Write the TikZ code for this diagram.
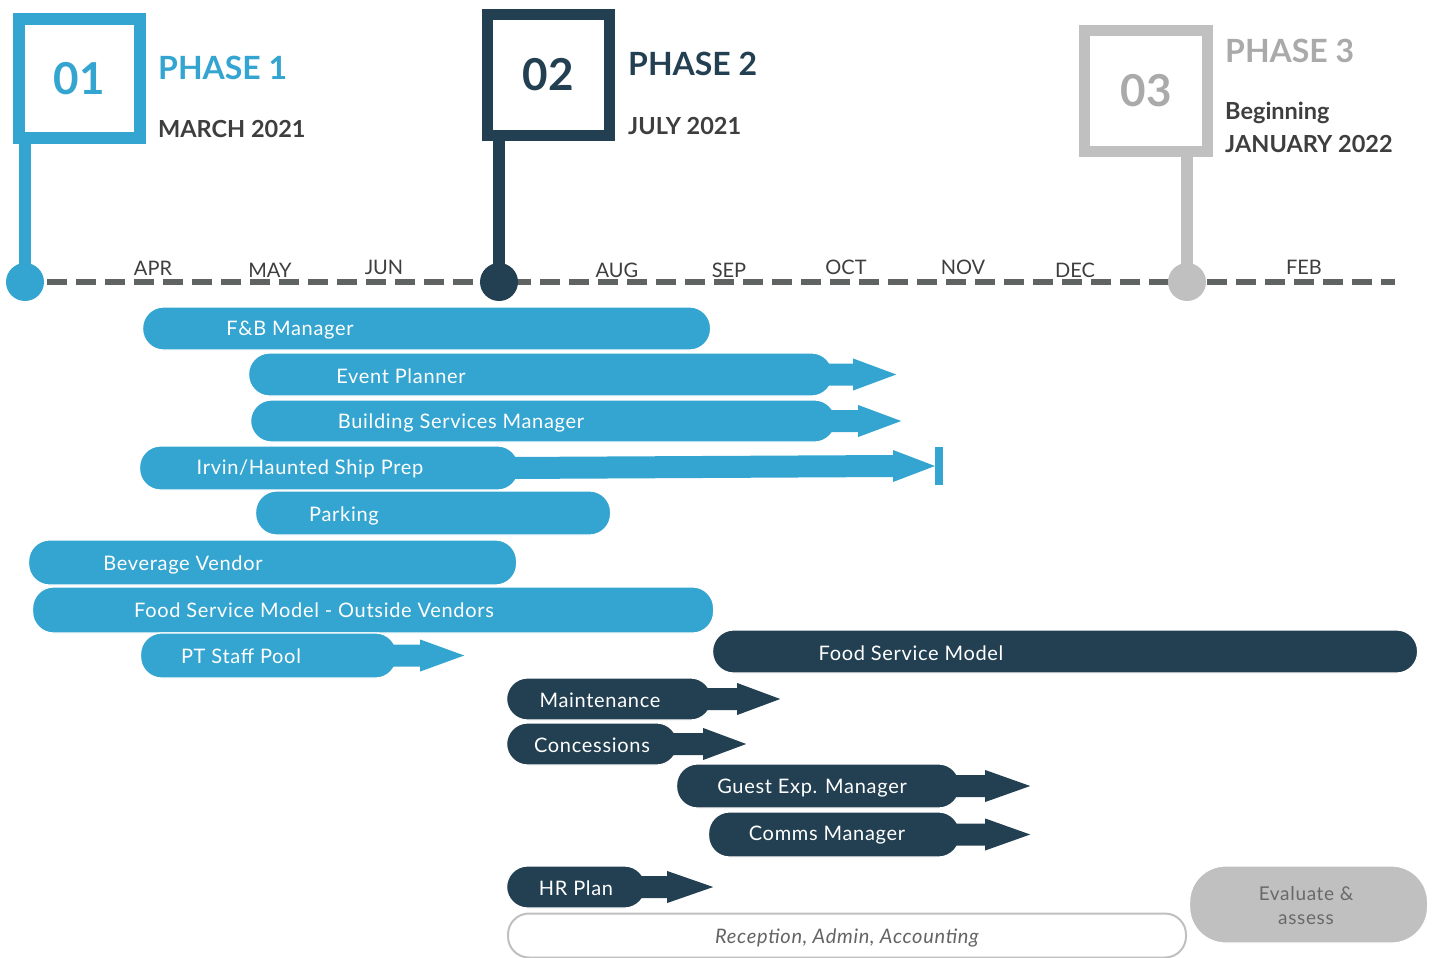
\documentclass[tikz,border=0pt]{standalone}
\usepackage{fontspec}
\setmainfont{Lato}
\usetikzlibrary{calc}
\definecolor{pblue}{RGB}{52,165,209}
\definecolor{pnavy}{RGB}{35,64,82}
\definecolor{pgray}{RGB}{192,192,192}
\definecolor{dashgray}{RGB}{95,100,98}
\definecolor{txtdark}{RGB}{62,62,62}
\definecolor{ph3gray}{RGB}{170,170,170}
\definecolor{evalgray}{RGB}{105,105,105}
\definecolor{recgray}{RGB}{100,100,100}
\newfontfamily\spacedfont[LetterSpace=3.5]{Lato}
\newcommand{\barArrow}[4]{%
  \fill[#4] ([xshift=-15pt,yshift=11pt]#1.east) -- ++(#2pt,0pt) -- ++(0pt,5pt)
    -- ++(#3pt,-16pt) -- ++(-#3pt,-16pt) -- ++(0pt,5pt) -- ++(-#2pt,0pt) -- cycle;}
\tikzset{
  phasebox/.style={draw=#1, line width=11.5pt, fill=white, inner sep=0pt,
    font=\fontsize{44}{48}\selectfont\bfseries, text=#1},
  phasedot/.style={circle, fill=#1, minimum size=38pt, inner sep=0pt},
  stem/.style={line width=12pt, draw=#1},
  ttl/.style={anchor=base west, inner sep=0pt, font=\fontsize{32}{34}\selectfont\bfseries},
  sub/.style={anchor=base west, inner sep=0pt, text=txtdark, font=\fontsize{23.5}{25}\selectfont\bfseries},
  monthlbl/.style={anchor=base, inner sep=0pt, text=txtdark, font=\fontsize{20}{22}\selectfont},
  barbase/.style={rectangle, rounded corners=21pt, anchor=west, inner sep=0pt, draw=white, line width=1.2pt},
  bluebar/.style={barbase, fill=pblue},
  navybar/.style={barbase, fill=pnavy},
  bartext/.style={inner sep=0pt, text=white, font=\spacedfont\fontsize{20}{22}\selectfont},
}
\begin{document}
\begin{tikzpicture}[x=1pt,y=-1pt]
\useasboundingbox[fill=white] (0,0) rectangle (1436,958);

% timeline
\coordinate (tlstart) at (47,282);
\coordinate (tlend) at (1395,282);
\draw[dashgray, line width=5.5pt, dash pattern=on 20pt off 9pt] (tlstart) -- (tlend);

% months
\node[monthlbl] (mapr) at (153,275) {APR};
\node[monthlbl] (mmay) at (270,277) {MAY};
\node[monthlbl] (mjun) at (384,274) {JUN};
\node[monthlbl] (maug) at (617,277) {AUG};
\node[monthlbl] (msep) at (729,277) {SEP};
\node[monthlbl] (moct) at (846,274) {OCT};
\node[monthlbl] (mnov) at (963,274) {NOV};
\node[monthlbl] (mdec) at (1075,277) {DEC};
\node[monthlbl] (mfeb) at (1304,274) {FEB};

% phase 1
\node[phasedot=pblue] (c1) at (25,282) {};
\node[phasebox=pblue, minimum width=121pt, minimum height=119pt] (b1) at (79.5,78.5) {01};
\draw[stem=pblue] (b1.south -| c1) -- (c1.center);
\node[ttl, text=pblue] (t1) at (158,80) {PHASE 1};
\node[sub] (d1) at (158,137) {MARCH 2021};

% phase 2
\node[phasedot=pnavy] (c2) at (499,282) {};
\node[phasebox=pnavy, minimum width=122pt, minimum height=121pt] (b2) at (548.5,75) {02};
\draw[stem=pnavy] (b2.south -| c2) -- (c2.center);
\node[ttl, text=pnavy] (t2) at (628,76) {PHASE 2};
\node[sub] (d2) at (628,135) {JULY 2021};

% phase 3
\node[phasedot=pgray] (c3) at (1187,282) {};
\node[phasebox=pgray, minimum width=123pt, minimum height=121pt, text=ph3gray] (b3) at (1146,91) {03};
\draw[stem=pgray] (b3.south -| c3) -- (c3.center);
\node[ttl, text=ph3gray] (t3) at (1225,63) {PHASE 3};
\node[sub] (d3a) at (1225,120) {Beginning};
\node[sub] (d3b) at (1225,152) {JANUARY 2022};

% blue bars
\node[bluebar, minimum width=568pt, minimum height=43pt] (fb) at (142,328.5) {};
\node[bartext] (fbt) at (290,330) {F\&B Manager};

\node[bluebar, minimum width=584pt, minimum height=43pt] (ev) at (248,374.5) {};
\barArrow{ev}{35}{43}{pblue}
\node[bartext] (evt) at (401,376) {Event Planner};

\node[bluebar, minimum width=585pt, minimum height=42pt] (bs) at (250,421) {};
\barArrow{bs}{37}{43}{pblue}
\node[bartext] (bst) at (461,423) {Building Services Manager};

\node[bluebar, minimum width=379pt, minimum height=44pt] (irv) at (139,468) {};
\coordinate (irvend) at (939,466);
\fill[pblue] ([xshift=-8pt,yshift=11pt]irv.east) -- ([yshift=11pt]893,466) -- ([yshift=16pt]893,466)
  -- (935,466) -- ([yshift=-16pt]893,466) -- ([yshift=-11pt]893,466) -- ([xshift=-8pt,yshift=-11pt]irv.east) -- cycle;
\draw[pblue, line width=8pt] ([yshift=19pt]irvend) -- ([yshift=-19pt]irvend);
\node[bartext] (irvt) at (310,469) {Irvin/Haunted Ship Prep};

\node[bluebar, minimum width=355pt, minimum height=44pt] (pk) at (255,513) {};
\node[bartext] (pkt) at (344,516) {Parking};

\node[bluebar, minimum width=488pt, minimum height=45pt] (bv) at (28,562.5) {};
\node[bartext] (bvt) at (183,565) {Beverage Vendor};

\node[bluebar, minimum width=681pt, minimum height=46pt] (fo) at (32,610) {};
\node[bartext] (fot) at (314,610) {Food Service Model - Outside Vendors};

\node[bluebar, minimum width=256pt, minimum height=45pt] (pt) at (140,655.5) {};
\barArrow{pt}{38}{44}{pblue}
\node[bartext] (ptt) at (241,656) {PT Staff Pool};

% navy bars
\node[navybar, minimum width=705pt, minimum height=43pt] (fs) at (712,651.5) {};
\node[bartext] (fst) at (911,653) {Food Service Model};

\node[navybar, minimum width=205pt, minimum height=42pt] (mt) at (506,699) {};
\barArrow{mt}{40}{43}{pnavy}
\node[bartext] (mtt) at (600,700) {Maintenance};

\node[navybar, minimum width=171pt, minimum height=42pt] (cn) at (506,744) {};
\barArrow{cn}{40}{43}{pnavy}
\node[bartext] (cnt) at (592,745) {Concessions};

\node[navybar, minimum width=283pt, minimum height=44pt] (ge) at (676,786) {};
\barArrow{ge}{40}{45}{pnavy}
\node[bartext] (get) at (812,788) {Guest Exp. Manager};

\node[navybar, minimum width=251pt, minimum height=45pt] (cm) at (708,834.5) {};
\barArrow{cm}{40}{45}{pnavy}
\node[bartext] (cmt) at (827,835) {Comms Manager};

\node[navybar, minimum width=139pt, minimum height=42pt] (hr) at (506,887) {};
\barArrow{hr}{36}{46}{pnavy}
\node[bartext] (hrt) at (576,888) {HR Plan};

% reception & evaluate
\node[rectangle, rounded corners=21pt, anchor=west, draw=pgray, line width=2pt, fill=white,
  minimum width=678pt, minimum height=44pt] (rc) at (507,935.5) {};
\node[inner sep=0pt, text=recgray, font=\spacedfont\fontsize{20}{22}\selectfont\itshape] (rct) at (847,938) {Reception, Admin, Accounting};

\node[rectangle, rounded corners=36pt, anchor=west, fill=pgray, draw=white, line width=1.2pt,
  minimum width=238pt, minimum height=77pt] (evl) at (1189,904.5) {};
\node[inner sep=0pt, align=center, text=evalgray, font=\spacedfont\fontsize{19}{24}\selectfont] (evlt) at (1306,906) {Evaluate \&\\assess};
\end{tikzpicture}
\end{document}
